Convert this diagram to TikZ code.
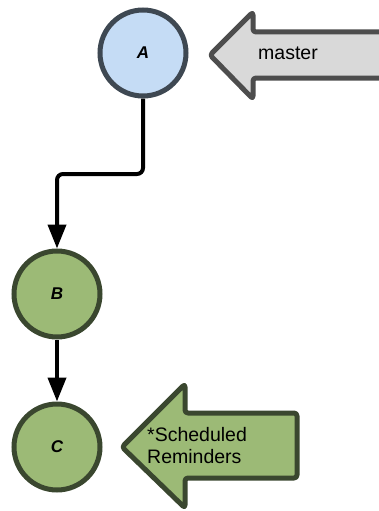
\documentclass[tikz,border=0pt]{standalone}
\usepackage{fontspec}
\setmainfont{Liberation Sans}
\usetikzlibrary{arrows.meta}
\definecolor{blueFill}{HTML}{C5DCF5}
\definecolor{blueLine}{HTML}{3E4852}
\definecolor{greenFill}{HTML}{9CBA76}
\definecolor{greenLine}{HTML}{3A472F}
\definecolor{grayFill}{HTML}{D9D9D9}
\definecolor{grayLine}{HTML}{4D4D4D}
\tikzset{
  commit/.style={circle, minimum size=86pt, inner sep=0pt, line width=5pt,
    font=\fontsize{17}{20}\selectfont\bfseries\itshape},
  bluecommit/.style={commit, draw=blueLine, fill=blueFill},
  greencommit/.style={commit, draw=greenLine, fill=greenFill},
  link/.style={line width=4pt, -{Triangle[length=24pt,width=18pt]}},
  labeltext/.style={font=\fontsize{19.5}{22}\selectfont, align=left, inner sep=0pt},
  bigarrow/.style={line width=5pt, rounded corners=3pt, line join=round}
}
\begin{document}
\begin{tikzpicture}[x=1pt,y=-1pt]
\useasboundingbox (0,0) rectangle (379,511);
\node[bluecommit] (A) at (143,53) {A};
\node[greencommit] (B) at (57,294) {B};
\node[greencommit] (C) at (57,447) {C};
\coordinate (k1) at (143,174);
\coordinate (k2) at (57,174);
\draw[link, rounded corners=6pt] (A.south) -- (k1) -- (k2) -- (B.north);
\draw[link] (B.south) -- (C.north);
% master pointer
\draw[bigarrow, draw=grayLine, fill=grayFill]
  (210,55) -- (253,12) -- (253,32) -- (392,32) -- (392,78) -- (253,78) -- (253,99) -- cycle;
\node[labeltext, anchor=west] (m) at (258,53) {master};
% scheduled reminders pointer
\draw[bigarrow, draw=greenLine, fill=greenFill]
  (122,447) -- (185,384) -- (185,413) -- (297,413) -- (297,478) -- (185,478) -- (185,508) -- cycle;
\node[labeltext, anchor=west] (s) at (147,446) {*Scheduled\\Reminders};
\end{tikzpicture}
\end{document}
